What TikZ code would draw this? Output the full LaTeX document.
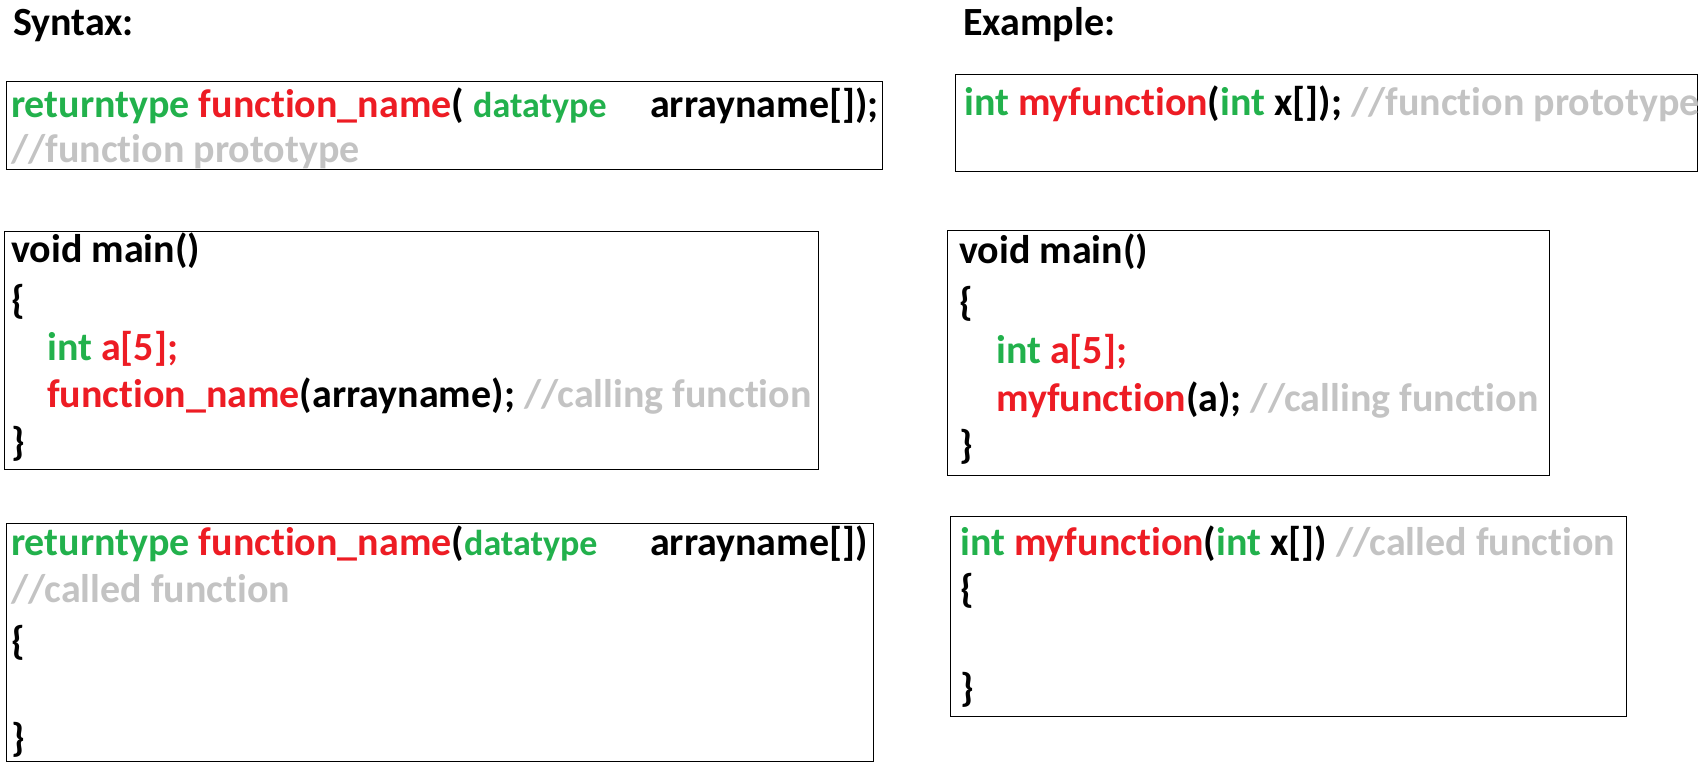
\documentclass[tikz,border=0pt]{standalone}
\usepackage{fontspec}
\setmainfont{Carlito}[Ligatures={NoCommon,NoContextual}]
\definecolor{kwgreen}{RGB}{34,177,76}
\definecolor{fnred}{RGB}{237,28,36}
\definecolor{cmtgray}{RGB}{195,195,195}
\newcommand{\kw}[1]{\textcolor{kwgreen}{#1}}
\newcommand{\fn}[1]{\textcolor{fnred}{#1}}
\newcommand{\cmt}[1]{\textcolor{cmtgray}{#1}}
\begin{document}
\begin{tikzpicture}[x=1pt, y=-1pt,
    codebox/.style={draw, line width=1.2pt, anchor=north west, inner sep=0pt},
    code/.style={anchor=base west, inner sep=0pt, font=\fontsize{40}{48}\selectfont\bfseries}]
    \useasboundingbox (0,0) rectangle (1699,769);
    % headings
    \node[code] (syntax) at (13,35) {Syntax:};
    \node[code] (example) at (963,35) {Example:};
    % boxes
    \node[codebox, minimum width=876pt, minimum height=88pt] (sproto) at (6,81) {};
    \node[codebox, minimum width=742pt, minimum height=97pt] (eproto) at (955,74) {};
    \node[codebox, minimum width=814pt, minimum height=238pt] (smain) at (4,231) {};
    \node[codebox, minimum width=602pt, minimum height=245pt] (emain) at (947,230) {};
    \node[codebox, minimum width=867pt, minimum height=238pt] (sfunc) at (6,523) {};
    \node[codebox, minimum width=676pt, minimum height=200pt] (efunc) at (950,516) {};
    % syntax: prototype
    \node[code] (sproto1) at (11,117) {\kw{returntype} \fn{function\_name}( \kw{\fontsize{36}{40}\selectfont datatype}};
    \node[code] (sprotoarr) at (650,117) {arrayname[]);};
    \node[code] (sproto2) at (11,162) {\cmt{//function prototype}};
    % example: prototype
    \node[code] (eproto1) at (964,115) {\kw{int} \fn{myfunction}(\kw{int} x[]); \cmt{//function prototype}};
    % syntax: main
    \node[code] (smain1) at (11,262) {void main()};
    \node[code] (smain2) at (11,313) {\{};
    \node[code] (smain3) at (47,360) {\kw{int} \fn{a[5];}};
    \node[code] (smain4) at (47,407) {\fn{function\_name}(arrayname); \cmt{//calling function}};
    \node[code] (smain5) at (11,455) {\}};
    % example: main
    \node[code] (emain1) at (959,263) {void main()};
    \node[code] (emain2) at (959,315) {\{};
    \node[code] (emain3) at (996,363) {\kw{int} \fn{a[5];}};
    \node[code] (emain4) at (996,411) {\fn{myfunction}(a); \cmt{//calling function}};
    \node[code] (emain5) at (959,458) {\}};
    % syntax: called function
    \node[code] (sfunc1) at (11,555) {\kw{returntype} \fn{function\_name}(\kw{\fontsize{36}{40}\selectfont datatype}};
    \node[code] (sfuncarr) at (650,555) {arrayname[])};
    \node[code] (sfunc2) at (11,602) {\cmt{//called function}};
    \node[code] (sfunc3) at (11,654) {\{};
    \node[code] (sfunc4) at (11,751) {\}};
    % example: called function
    \node[code] (efunc1) at (960,555) {\kw{int} \fn{myfunction}(\kw{int} x[]) \cmt{//called function}};
    \node[code] (efunc2) at (960,602) {\{};
    \node[code] (efunc3) at (960,701) {\}};
\end{tikzpicture}
\end{document}
